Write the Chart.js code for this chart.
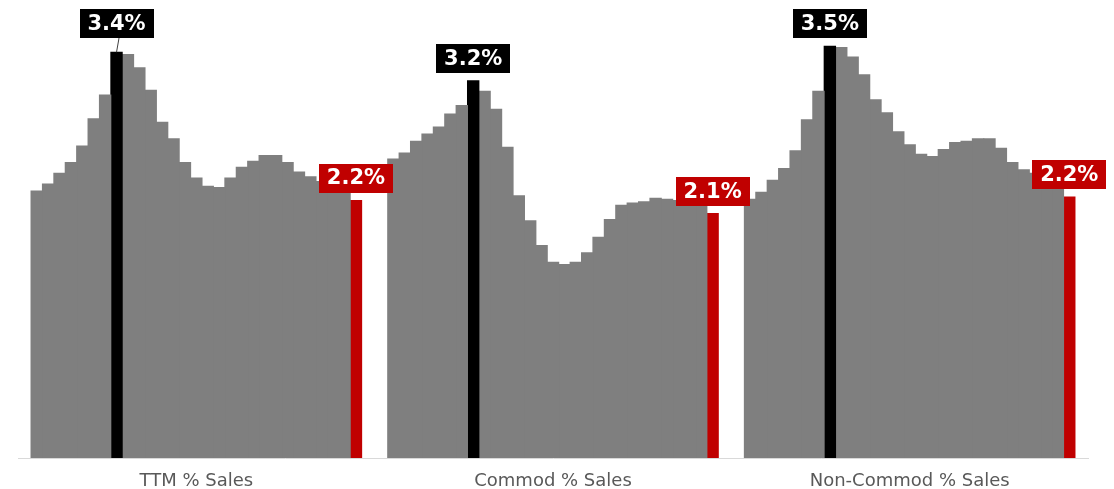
<!DOCTYPE html>
<html><head><meta charset="utf-8">
<script src="https://cdn.jsdelivr.net/npm/chart.js@4.4.1/dist/chart.umd.min.js"></script>
<style>html,body{margin:0;padding:0;background:#fff;overflow:hidden}#wrap{width:1114px;height:489px;position:relative}</style>
</head><body><div id="wrap"><canvas id="c" width="1114" height="489"></canvas></div>
<script>
const categories = ['TTM % Sales', 'Commod % Sales', 'Non-Commod % Sales'];
const ttmSales = [2.25, 2.31, 2.40, 2.49, 2.63, 2.86, 3.06, 3.42, 3.40, 3.29, 3.10, 2.83, 2.69, 2.49, 2.36, 2.29, 2.28, 2.36, 2.45, 2.50, 2.55, 2.55, 2.49, 2.41, 2.37, 2.33, 2.29, 2.24, 2.17];
const commodSales = [2.52, 2.57, 2.67, 2.73, 2.79, 2.90, 2.97, 3.18, 3.09, 2.94, 2.62, 2.21, 2.00, 1.79, 1.65, 1.63, 1.65, 1.73, 1.86, 2.01, 2.13, 2.15, 2.16, 2.19, 2.18, 2.17, 2.15, 2.12, 2.06];
const nonCommodSales = [2.18, 2.24, 2.34, 2.44, 2.59, 2.85, 3.09, 3.47, 3.46, 3.38, 3.23, 3.02, 2.91, 2.75, 2.64, 2.56, 2.54, 2.60, 2.66, 2.67, 2.69, 2.69, 2.61, 2.49, 2.43, 2.40, 2.36, 2.31, 2.20];

const groups = [ttmSales, commodSales, nonCommodSales];
const GREY = '#7f7f7f', BLACK = '#000000', RED = '#c00000';
const nBars = ttmSales.length;
const maxIdx = groups.map(g => g.indexOf(Math.max(...g)));
const lastIdx = nBars - 1;

const datasets = [];
for (let i = 0; i < nBars; i++) {
  datasets.push({
    label: 'P' + (i + 1),
    data: groups.map(g => g[i]),
    backgroundColor: groups.map((g, c) => i === maxIdx[c] ? BLACK : (i === lastIdx ? RED : GREY)),
    borderWidth: 0,
    barPercentage: 1,
    categoryPercentage: 0.927,
    inflateAmount: 0.5
  });
}

const calloutPlugin = {
  id: 'callouts',
  afterDatasetsDraw(chart, args, opts) {
    const ctx = chart.ctx;
    ctx.save();
    ctx.font = 'bold 21px "DejaVu Sans"';
    ctx.textAlign = 'center';
    ctx.textBaseline = 'middle';
    groups.forEach((g, c) => {
      [[maxIdx[c], BLACK, opts.maxLift[c]], [lastIdx, RED, 0]].forEach(([i, col, lift]) => {
        const el = chart.getDatasetMeta(i).data[c];
        const w = 74, h = 29, gap = 8;
        const cx = el.x, bottom = el.y - gap - lift;
        ctx.fillStyle = col;
        ctx.fillRect(Math.round(cx - w / 2), Math.round(bottom - h), w, h);
        if (lift > 0) {
          ctx.strokeStyle = '#404040'; ctx.lineWidth = 1;
          ctx.beginPath(); ctx.moveTo(cx + 2.5, Math.round(bottom)); ctx.lineTo(cx, el.y); ctx.stroke();
        }
        ctx.fillStyle = '#ffffff';
        ctx.fillText(g[i].toFixed(1) + '%', cx, bottom - h / 2 + 1);
      });
    });
    ctx.restore();
  }
};

new Chart(document.getElementById('c'), {
  type: 'bar',
  data: { labels: categories, datasets },
  plugins: [calloutPlugin],
  options: {
    responsive: false,
    animation: false,
    devicePixelRatio: 1,
    layout: { padding: { left: 18, right: 26, top: 0, bottom: -15 } },
    plugins: {
      legend: { display: false },
      tooltip: { enabled: false },
      callouts: { maxLift: [6, 0, 0] }
    },
    scales: {
      x: {
        grid: { display: false, drawTicks: false },
        border: { display: true, color: '#d9d9d9', width: 1 },
        ticks: { color: '#595959', font: { family: '"DejaVu Sans"', size: 18, lineHeight: 1 }, padding: 14, maxRotation: 0, autoSkip: false }
      },
      y: { display: false, min: 0, max: 3.86 }
    }
  }
});
</script>
</body></html>
